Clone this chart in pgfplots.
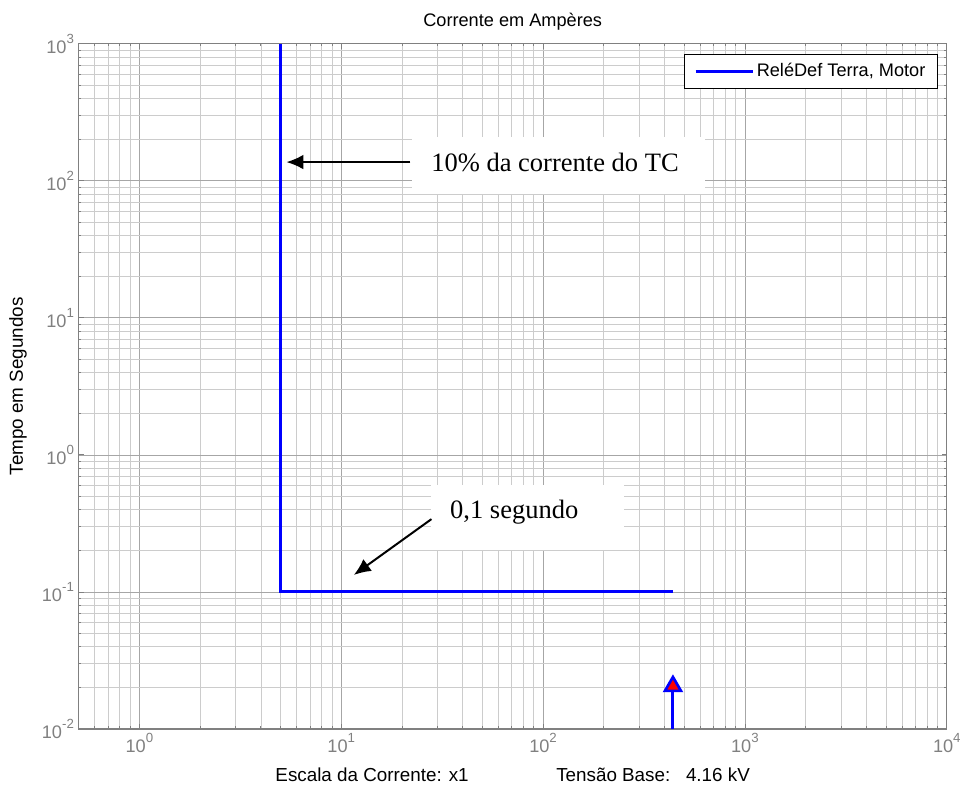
\documentclass[border=0pt]{standalone}
\usepackage{fontspec}
\setmainfont{Liberation Sans}
\newfontfamily\tnr{Liberation Serif}
\usepackage{pgfplots}
\pgfplotsset{compat=1.18}
\usetikzlibrary{arrows.meta}
\newcommand{\sz}{\fontsize{13.7}{16}\selectfont}
\newcommand{\lsz}{\fontsize{14.2}{16}\selectfont}
\newcommand{\ssz}{\tnr\fontsize{20}{24}\selectfont}
\newcommand{\ex}[1]{10\raisebox{0.55em}{\fontsize{10}{12}\selectfont #1}}
\begin{document}
\begin{tikzpicture}
\begin{axis}[
  xmode=log, ymode=log,
  scale only axis, width=654.75pt, height=516.75pt,
  xmin=0.5, xmax=10000, ymin=0.01, ymax=1000,
  xtick={1,10,100,1000,10000},
  xticklabels={\ex{0},\ex{1},\ex{2},\ex{3},\ex{4}},
  ytick={0.01,0.1,1,10,100,1000},
  yticklabels={\ex{-2},\ex{-1},\ex{0},\ex{1},\ex{2},\ex{3}},
  minor xtick={0.6,0.7,0.8,0.9,2,3,4,5,6,7,8,9,20,30,40,50,60,70,80,90,200,300,400,500,600,700,800,900,2000,3000,4000,5000,6000,7000,8000,9000},
  minor ytick={0.02,0.03,0.04,0.05,0.06,0.07,0.08,0.09,0.2,0.3,0.4,0.5,0.6,0.7,0.8,0.9,2,3,4,5,6,7,8,9,20,30,40,50,60,70,80,90,200,300,400,500,600,700,800,900},
  grid=both,
  major grid style={black!35, line width=0.55pt},
  minor grid style={black!20, line width=0.55pt},
  tick style={black!50, line width=0.6pt},
  axis line style={black!50, line width=0.8pt},
  tick align=inside,
  major tick length=4pt, minor tick length=2pt,
  ticklabel style={font=\sz, text=black!50},
  title={Corrente em Ampères},
  title style={font=\sz, at={(axis description cs:0.5,1)}, anchor=center, yshift=10.5pt},
  xlabel={Escala da Corrente: x1\hspace{66pt}Tensão Base:\ \ \ 4.16 kV},
  xlabel style={font=\lsz, at={(axis description cs:0.5,0)}, anchor=center, yshift=-34.5pt},
  ylabel={Tempo em Segundos},
  ylabel style={font=\lsz, at={(axis description cs:0,0.5)}, anchor=center, yshift=45.75pt},
  legend style={at={(axis description cs:1,1)}, anchor=north east, xshift=-6.75pt, yshift=-7.5pt,
    draw=black, line width=0.8pt, fill=white, font=\sz, inner xsep=7pt, inner ysep=5pt},
  legend cell align=left,
  legend image code/.code={\draw[#1] (0pt,0pt) -- (43pt,0pt);},
  clip mode=individual,
]
\coordinate (SW) at (rel axis cs:0,0);
\coordinate (NE) at (rel axis cs:1,1);
\addplot[blue, line width=2.25pt] coordinates {(5,1000) (5,0.1) (440,0.1)};
\addlegendentry{{ReléDef Terra, Motor}}
\addplot[blue, line width=2.25pt, forget plot] coordinates {(440,0.01) (440,0.02)};
\addplot[only marks, mark=triangle*, mark size=7pt, mark options={draw=blue, fill=red, line width=2pt}, forget plot] coordinates {(440,0.0205)};
% annotation 1
\fill[white] (axis cs:22.3,80.2) rectangle (axis cs:631,208);
\node[font=\ssz] at (axis cs:114.6,137) {10\% da corrente do TC};
\draw[line width=1.5pt, -{Latex[length=12.75pt,width=11pt]}] (axis cs:22,137) -- (axis cs:5.35,137);
% annotation 2
\fill[white] (axis cs:28,0.202) rectangle (axis cs:251,0.600);
\node[font=\ssz] at (axis cs:72,0.382) {0,1 segundo};
\draw[line width=1.5pt, -{Latex[length=12.75pt,width=11pt]}] (axis cs:28,0.34) -- (axis cs:11.55,0.133);
\end{axis}
\path ([xshift=-59.25pt,yshift=-43.5pt]SW) rectangle ([xshift=9.75pt,yshift=33pt]NE);
\end{tikzpicture}
\end{document}
